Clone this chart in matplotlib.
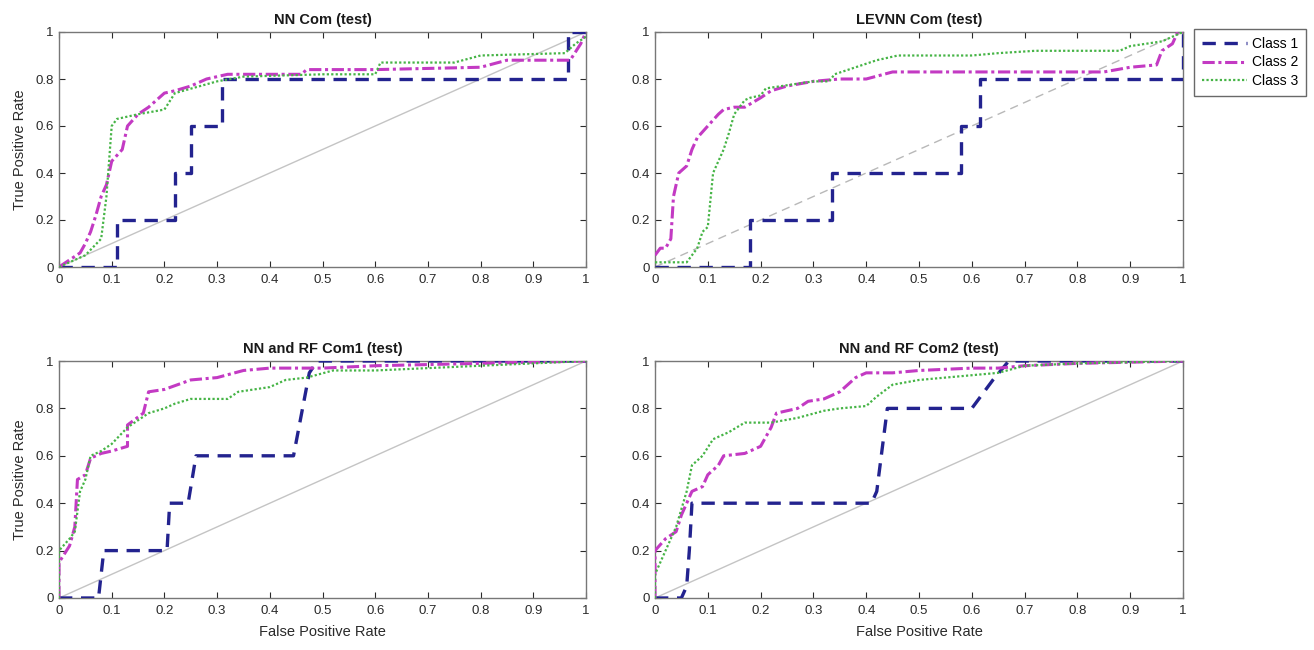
import matplotlib
matplotlib.use("Agg")
import matplotlib.pyplot as plt

plt.rcParams['font.family'] = ['Liberation Sans', 'DejaVu Sans']

titles = ["NN Com (test)", "LEVNN Com (test)", "NN and RF Com1 (test)", "NN and RF Com2 (test)"]
class_names = ["Class 1", "Class 2", "Class 3"]
ticks = [0, 0.1, 0.2, 0.3, 0.4, 0.5, 0.6, 0.7, 0.8, 0.9, 1]
tick_labels = ["0", "0.1", "0.2", "0.3", "0.4", "0.5", "0.6", "0.7", "0.8", "0.9", "1"]
ytick_vals = [0, 0.2, 0.4, 0.6, 0.8, 1]
ytick_labels = ["0", "0.2", "0.4", "0.6", "0.8", "1"]

# ---- NN Com ----
nn_c1_x = [0, 0.11, 0.11, 0.22, 0.22, 0.25, 0.25, 0.31, 0.31, 0.965, 0.965, 1]
nn_c1_y = [0, 0, 0.2, 0.2, 0.4, 0.4, 0.6, 0.6, 0.8, 0.8, 1.0, 1.0]
nn_c2_x = [0, 0.02, 0.04, 0.05, 0.06, 0.07, 0.08, 0.09, 0.10, 0.12, 0.13, 0.15, 0.17, 0.20, 0.22, 0.25, 0.28, 0.32, 0.46, 0.47, 0.60, 0.80, 0.85, 0.97, 0.99, 1]
nn_c2_y = [0, 0.03, 0.06, 0.10, 0.15, 0.22, 0.30, 0.35, 0.45, 0.50, 0.60, 0.65, 0.68, 0.74, 0.75, 0.77, 0.80, 0.82, 0.82, 0.84, 0.84, 0.85, 0.88, 0.88, 0.95, 1.0]
nn_c3_x = [0, 0.05, 0.08, 0.09, 0.10, 0.11, 0.15, 0.20, 0.22, 0.30, 0.35, 0.50, 0.60, 0.61, 0.75, 0.80, 0.96, 0.98, 1]
nn_c3_y = [0, 0.05, 0.12, 0.30, 0.60, 0.63, 0.65, 0.67, 0.74, 0.79, 0.81, 0.82, 0.82, 0.87, 0.87, 0.90, 0.91, 0.95, 0.98]

# ---- LEVNN Com ----
lev_c1_x = [0, 0.18, 0.18, 0.335, 0.335, 0.58, 0.58, 0.615, 0.615, 1.0, 1.0]
lev_c1_y = [0, 0, 0.2, 0.2, 0.4, 0.4, 0.6, 0.6, 0.8, 0.8, 1.0]
lev_c2_x = [0, 0.01, 0.02, 0.03, 0.035, 0.045, 0.06, 0.07, 0.08, 0.10, 0.12, 0.13, 0.15, 0.17, 0.20, 0.22, 0.25, 0.30, 0.35, 0.40, 0.45, 0.85, 0.90, 0.95, 0.96, 0.98, 0.99, 1]
lev_c2_y = [0.05, 0.08, 0.08, 0.12, 0.30, 0.40, 0.43, 0.50, 0.55, 0.60, 0.65, 0.67, 0.68, 0.68, 0.72, 0.75, 0.77, 0.79, 0.80, 0.80, 0.83, 0.83, 0.85, 0.86, 0.92, 0.95, 1.0, 1.0]
lev_c3_x = [0, 0.06, 0.08, 0.09, 0.10, 0.11, 0.12, 0.13, 0.14, 0.15, 0.17, 0.18, 0.20, 0.21, 0.30, 0.33, 0.34, 0.38, 0.42, 0.46, 0.60, 0.65, 0.72, 0.88, 0.90, 0.96, 1]
lev_c3_y = [0.02, 0.02, 0.08, 0.15, 0.17, 0.40, 0.45, 0.50, 0.57, 0.65, 0.71, 0.72, 0.73, 0.76, 0.79, 0.79, 0.82, 0.85, 0.88, 0.90, 0.90, 0.91, 0.92, 0.92, 0.94, 0.96, 1.0]

# ---- NN and RF Com1 ----
rf1_c1_x = [0, 0.075, 0.085, 0.205, 0.21, 0.245, 0.26, 0.445, 0.475, 0.49, 1]
rf1_c1_y = [0, 0, 0.2, 0.2, 0.4, 0.4, 0.6, 0.6, 0.95, 1.0, 1.0]
rf1_c2_x = [0, 0, 0.02, 0.03, 0.035, 0.05, 0.06, 0.08, 0.10, 0.13, 0.13, 0.16, 0.17, 0.20, 0.25, 0.30, 0.35, 0.40, 0.50, 0.60, 0.80, 1]
rf1_c2_y = [0, 0.15, 0.22, 0.30, 0.50, 0.52, 0.59, 0.61, 0.62, 0.64, 0.73, 0.78, 0.87, 0.88, 0.92, 0.93, 0.96, 0.97, 0.97, 0.98, 0.99, 1.0]
rf1_c3_x = [0, 0, 0.02, 0.03, 0.04, 0.05, 0.06, 0.08, 0.10, 0.13, 0.17, 0.20, 0.22, 0.25, 0.32, 0.34, 0.40, 0.43, 0.47, 0.52, 0.60, 0.80, 1]
rf1_c3_y = [0, 0.20, 0.25, 0.28, 0.45, 0.50, 0.60, 0.62, 0.65, 0.72, 0.78, 0.80, 0.82, 0.84, 0.84, 0.87, 0.89, 0.92, 0.93, 0.96, 0.96, 0.98, 1.0]

# ---- NN and RF Com2 ----
rf2_c1_x = [0, 0.05, 0.06, 0.065, 0.07, 0.41, 0.42, 0.44, 0.60, 0.64, 0.67, 1]
rf2_c1_y = [0, 0, 0.05, 0.2, 0.4, 0.4, 0.45, 0.8, 0.8, 0.92, 1.0, 1.0]
rf2_c2_x = [0, 0, 0.02, 0.04, 0.05, 0.07, 0.09, 0.10, 0.12, 0.13, 0.17, 0.20, 0.22, 0.23, 0.27, 0.29, 0.32, 0.35, 0.38, 0.40, 0.45, 0.50, 0.60, 0.65, 0.70, 0.80, 1]
rf2_c2_y = [0, 0.20, 0.25, 0.28, 0.35, 0.45, 0.47, 0.52, 0.56, 0.60, 0.61, 0.64, 0.72, 0.78, 0.80, 0.83, 0.84, 0.87, 0.93, 0.95, 0.95, 0.96, 0.97, 0.97, 0.98, 0.99, 1.0]
rf2_c3_x = [0, 0, 0.02, 0.04, 0.06, 0.07, 0.09, 0.11, 0.14, 0.17, 0.22, 0.27, 0.32, 0.35, 0.40, 0.42, 0.45, 0.50, 0.60, 0.65, 0.70, 0.80, 1]
rf2_c3_y = [0, 0.10, 0.20, 0.30, 0.45, 0.56, 0.60, 0.67, 0.70, 0.74, 0.74, 0.76, 0.79, 0.80, 0.81, 0.85, 0.90, 0.92, 0.94, 0.95, 0.98, 0.99, 1.0]

panels = [
    [(nn_c1_x, nn_c1_y), (nn_c2_x, nn_c2_y), (nn_c3_x, nn_c3_y)],
    [(lev_c1_x, lev_c1_y), (lev_c2_x, lev_c2_y), (lev_c3_x, lev_c3_y)],
    [(rf1_c1_x, rf1_c1_y), (rf1_c2_x, rf1_c2_y), (rf1_c3_x, rf1_c3_y)],
    [(rf2_c1_x, rf2_c1_y), (rf2_c2_x, rf2_c2_y), (rf2_c3_x, rf2_c3_y)],
]

colors = ["#23238f", "#c33ac3", "#46b446"]
styles = [(0, (4, 2.6)), (0, (4, 1.2, 1, 1.2)), (0, (1, 1))]
widths = [2.4, 2.2, 1.6]

W, H = 1314, 650
fig = plt.figure(figsize=(W / 100, H / 100), dpi=100)
boxes = [(59, 32, 586, 267), (655, 32, 1183, 267), (59, 361, 586, 598), (655, 361, 1183, 598)]

handles = []
for i, (box, title, curves) in enumerate(zip(boxes, titles, panels)):
    l, t, r, b = box
    ax = fig.add_axes([l / W, 1 - b / H, (r - l) / W, (b - t) / H])
    diag_ls = (0, (6, 4)) if i == 1 else '-'
    diag_col = "#b8b8b8" if i == 1 else "#c4c4c4"
    ax.plot([0, 1], [0, 1], color=diag_col, lw=1.0, ls=diag_ls, zorder=1)
    hs = []
    for k, (xs, ys) in enumerate(curves):
        h, = ax.plot(xs, ys, color=colors[k], ls=styles[k], lw=widths[k], zorder=3 + k)
        hs.append(h)
    if i == 0:
        handles = hs
    ax.set_xlim(0, 1)
    ax.set_ylim(0, 1)
    ax.set_xticks(ticks)
    ax.set_xticklabels(tick_labels)
    ax.set_yticks(ytick_vals)
    ax.set_yticklabels(ytick_labels)
    ax.tick_params(direction='in', top=True, right=True, length=4, width=0.8,
                   labelsize=9.5, colors="#2a2a2a", pad=5)
    ax.tick_params(axis='y', pad=4)
    for s in ax.spines.values():
        s.set_color("#777777")
        s.set_linewidth(1.0)
    ax.set_title(title, fontsize=10.5, fontweight='bold', pad=6, color="#1a1a1a")
    if i in (0, 2):
        ax.set_ylabel("True Positive Rate", fontsize=10.5, color="#2a2a2a", labelpad=6)
    if i in (2, 3):
        ax.set_xlabel("False Positive Rate", fontsize=10.5, color="#2a2a2a", labelpad=6)

leg = fig.legend(handles, class_names, loc='upper left',
                 bbox_to_anchor=(1194 / W, 1 - 29 / H), fontsize=10,
                 frameon=True, fancybox=False, handlelength=3.3,
                 borderpad=0.55, labelspacing=0.35, handletextpad=0.3,
                 borderaxespad=0)
leg.get_frame().set_edgecolor("#444444")
leg.get_frame().set_linewidth(1.0)

fig.savefig("out.png", dpi=100)
